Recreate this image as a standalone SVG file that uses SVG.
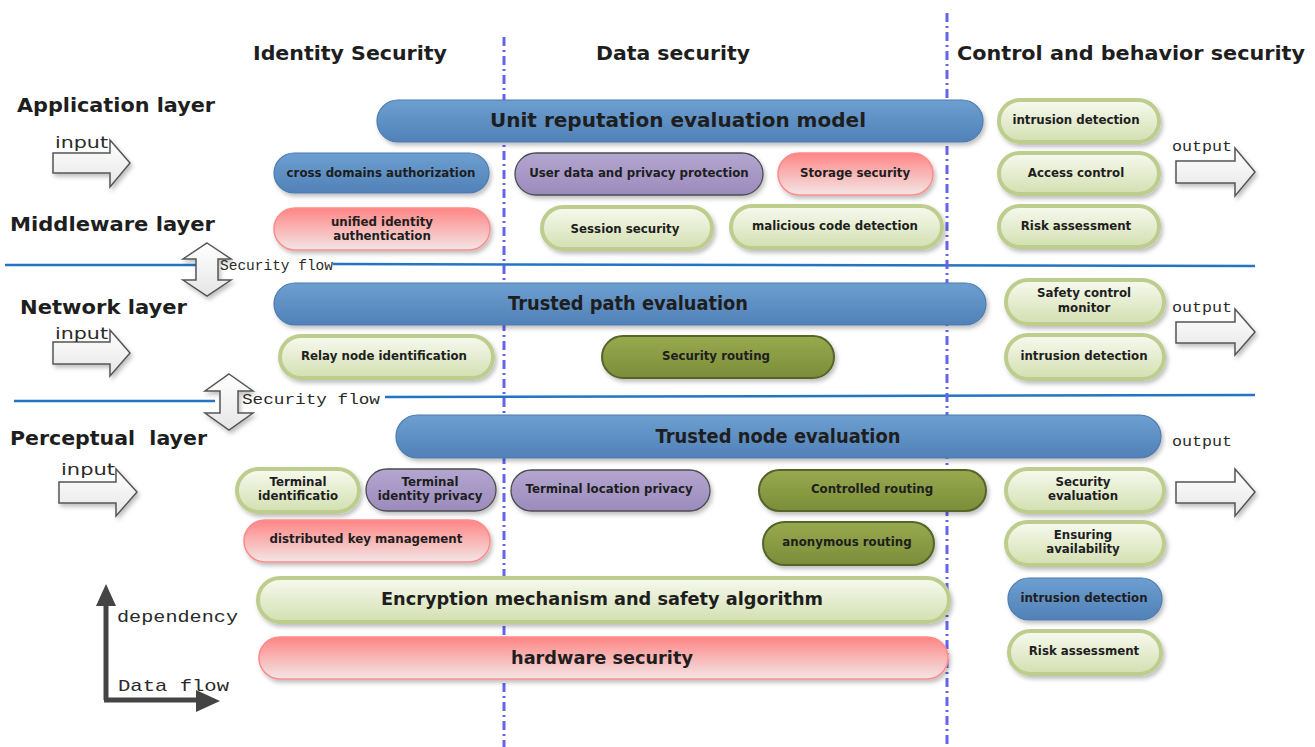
<svg xmlns="http://www.w3.org/2000/svg" width="1315" height="747" viewBox="0 0 1315 747">
  <defs>
    <linearGradient id="gBlue" x1="0" y1="0" x2="0" y2="1">
      <stop offset="0" stop-color="#6d9fd1"/>
      <stop offset="1" stop-color="#5181b7"/>
    </linearGradient>
    <linearGradient id="gGreen" x1="0" y1="0" x2="0" y2="1">
      <stop offset="0" stop-color="#f7faef"/>
      <stop offset="1" stop-color="#d3dfb0"/>
    </linearGradient>
    <linearGradient id="gOlive" x1="0" y1="0" x2="0" y2="1">
      <stop offset="0" stop-color="#98a94f"/>
      <stop offset="1" stop-color="#7b8d38"/>
    </linearGradient>
    <linearGradient id="gPurple" x1="0" y1="0" x2="0" y2="1">
      <stop offset="0" stop-color="#b3a6cf"/>
      <stop offset="1" stop-color="#9b8bbd"/>
    </linearGradient>
    <linearGradient id="gPink" x1="0" y1="0" x2="0" y2="1">
      <stop offset="0" stop-color="#ff8585"/>
      <stop offset="1" stop-color="#f3e6e6"/>
    </linearGradient>
    <linearGradient id="gArrow" x1="0" y1="0" x2="0" y2="1">
      <stop offset="0" stop-color="#ffffff"/>
      <stop offset="1" stop-color="#e6e6e6"/>
    </linearGradient>
    <filter id="shadow" x="-10%" y="-30%" width="125%" height="170%">
      <feDropShadow dx="2" dy="3" stdDeviation="2" flood-color="#000" flood-opacity="0.25"/>
    </filter>
  </defs>
  <style>
    .blue { fill: url(#gBlue); stroke: #4b7cb0; stroke-width: 1.2; filter: url(#shadow); }
    .green { fill: url(#gGreen); stroke: #bccd8e; stroke-width: 4; filter: url(#shadow); }
    .olive { fill: url(#gOlive); stroke: #55652a; stroke-width: 2; filter: url(#shadow); }
    .purple { fill: url(#gPurple); stroke: #4c4c4c; stroke-width: 1.3; filter: url(#shadow); }
    .pink { fill: url(#gPink); stroke: #ff8c8c; stroke-width: 1.6; filter: url(#shadow); }
    .lbl { font-family: "DejaVu Sans", Verdana, sans-serif; font-weight: bold; fill: #1e1e1e; text-anchor: middle; dominant-baseline: central; }
    .s { font-size: 11.8px; }
    .m { font-size: 18px; }
    .b { font-size: 20px; }
    .head { font-family: "DejaVu Sans", Verdana, sans-serif; font-weight: bold; font-size: 20px; fill: #1e1e1e; }
    .mono { font-family: "Liberation Mono", "Courier New", monospace; fill: #2a2a2a; }
    .sans { font-family: "DejaVu Sans", Verdana, sans-serif; fill: #2a2a2a; }
    .blockarrow { fill: url(#gArrow); stroke: #555; stroke-width: 1.5; filter: url(#shadow); }
    .sep { stroke: #2474c4; stroke-width: 2.5; fill: none; }
    .col { stroke: #6464e8; stroke-width: 3; stroke-dasharray: 9 4 2 4; fill: none; }
  </style>

  <!-- column headers -->
  <text class="head" x="253" y="60" textLength="194" lengthAdjust="spacingAndGlyphs">Identity Security</text>
  <text class="head" x="596" y="60" textLength="154" lengthAdjust="spacingAndGlyphs">Data security</text>
  <text class="head" x="957" y="60" textLength="348" lengthAdjust="spacingAndGlyphs">Control and behavior security</text>

  <!-- layer labels -->
  <text class="head" x="17" y="112" textLength="198" lengthAdjust="spacingAndGlyphs">Application layer</text>
  <text class="head" x="10" y="231" textLength="205" lengthAdjust="spacingAndGlyphs">Middleware layer</text>
  <text class="head" x="20" y="314" textLength="167" lengthAdjust="spacingAndGlyphs">Network layer</text>
  <text class="head" x="10" y="445" textLength="197" lengthAdjust="spacingAndGlyphs" xml:space="preserve">Perceptual  layer</text>

  <!-- layer separators -->
  <g id="separators">
    <path class="sep" d="M5 265 L200 265"/>
    <path class="sep" d="M333 264 L1255 266"/>
    <path class="sep" d="M14 401 L215 401"/>
    <path class="sep" d="M385 397 L1255 395"/>
  </g>

  <!-- input / output block arrows -->
  <g id="io-arrows">
    <path class="blockarrow" d="M53 153 H110 V140 L130 163 L110 187 V173 H53 Z"/>
    <path class="blockarrow" d="M53 342 H110 V330 L130 353 L110 376 V364 H53 Z"/>
    <path class="blockarrow" d="M59 482 H116 V469 L137 492 L116 516 V503 H59 Z"/>
    <path class="blockarrow" d="M1176 161 H1235 V148 L1255 172 L1235 196 V183 H1176 Z"/>
    <path class="blockarrow" d="M1176 322 H1235 V309 L1255 332 L1235 355 V343 H1176 Z"/>
    <path class="blockarrow" d="M1176 482 H1235 V469 L1255 492 L1235 516 V503 H1176 Z"/>
  </g>
  <text class="sans" x="55" y="148" font-size="16" textLength="53" lengthAdjust="spacingAndGlyphs">input</text>
  <text class="sans" x="55" y="339" font-size="16" textLength="53" lengthAdjust="spacingAndGlyphs">input</text>
  <text class="sans" x="61" y="475" font-size="16" textLength="54" lengthAdjust="spacingAndGlyphs">input</text>
  <text class="mono" x="1172" y="151" font-size="15" textLength="60" lengthAdjust="spacingAndGlyphs">output</text>
  <text class="mono" x="1172" y="312" font-size="15" textLength="60" lengthAdjust="spacingAndGlyphs">output</text>
  <text class="mono" x="1172" y="446" font-size="15" textLength="60" lengthAdjust="spacingAndGlyphs">output</text>

  <!-- security flow double arrows -->
  <g id="security-flow">
    <path class="blockarrow" d="M207 243 L231 259 H218 V280 H231 L207 296 L183 280 H196 V259 H183 Z"/>
    <path class="blockarrow" d="M229 374 L253 391 H238 V413 H253 L229 430 L205 413 H220 V391 H205 Z"/>
    <text class="mono" x="220" y="270" font-size="15" textLength="113" lengthAdjust="spacingAndGlyphs">Security flow</text>
    <text class="mono" x="242" y="404" font-size="15" textLength="138" lengthAdjust="spacingAndGlyphs">Security flow</text>
  </g>

  <!-- column dividers -->
  <g id="columns">
    <path class="col" d="M504 37 V747"/>
    <path class="col" d="M947 13 V747"/>
  </g>

  <!-- application layer -->
  <g id="unit-reputation"><rect class="blue" x="377" y="100" width="606" height="42" rx="21"/><text class="lbl b" x="678" y="120" textLength="376" lengthAdjust="spacingAndGlyphs">Unit reputation evaluation model</text></g>
  <g id="cross-domains"><rect class="blue" x="274" y="153" width="215" height="40" rx="20"/><text class="lbl s" x="381" y="173">cross domains authorization</text></g>
  <g id="user-data"><rect class="purple" x="515" y="153" width="248" height="42" rx="21"/><text class="lbl s" x="639" y="173">User data and privacy protection</text></g>
  <g id="storage"><rect class="pink" x="778" y="153" width="155" height="42" rx="21"/><text class="lbl s" x="855" y="173">Storage security</text></g>
  <g id="intrusion-1"><rect class="green" x="999" y="100" width="160" height="42" rx="21"/><text class="lbl s" x="1076" y="120">intrusion detection</text></g>
  <g id="access-control"><rect class="green" x="999" y="153" width="160" height="41" rx="20.5"/><text class="lbl s" x="1076" y="173">Access control</text></g>

  <!-- middleware layer -->
  <g id="unified-identity"><rect class="pink" x="274" y="208" width="216" height="42" rx="21"/><text class="lbl s" x="382" y="222">unified identity</text><text class="lbl s" x="382" y="236">authentication</text></g>
  <g id="session"><rect class="green" x="542" y="207" width="170" height="42" rx="21"/><text class="lbl s" x="625" y="229">Session security</text></g>
  <g id="malicious"><rect class="green" x="731" y="206" width="211" height="42" rx="21"/><text class="lbl s" x="835" y="226">malicious code detection</text></g>
  <g id="risk-1"><rect class="green" x="999" y="206" width="160" height="41" rx="20.5"/><text class="lbl s" x="1076" y="226">Risk assessment</text></g>

  <!-- network layer -->
  <g id="trusted-path"><rect class="blue" x="274" y="283" width="712" height="42" rx="21"/><text class="lbl b" x="628" y="303" textLength="240" lengthAdjust="spacingAndGlyphs">Trusted path evaluation</text></g>
  <g id="relay"><rect class="green" x="280" y="336" width="213" height="42" rx="21"/><text class="lbl s" x="384" y="356">Relay node identification</text></g>
  <g id="security-routing"><rect class="olive" x="602" y="336" width="232" height="42" rx="21"/><text class="lbl s" x="716" y="356">Security routing</text></g>
  <g id="safety-control"><rect class="green" x="1006" y="280" width="158" height="44" rx="22"/><text class="lbl s" x="1084" y="293">Safety control</text><text class="lbl s" x="1084" y="308">monitor</text></g>
  <g id="intrusion-2"><rect class="green" x="1006" y="335" width="158" height="44" rx="22"/><text class="lbl s" x="1084" y="356">intrusion detection</text></g>

  <!-- perceptual layer -->
  <g id="trusted-node"><rect class="blue" x="396" y="415" width="765" height="43" rx="21.5"/><text class="lbl b" x="778" y="436" textLength="245" lengthAdjust="spacingAndGlyphs">Trusted node evaluation</text></g>
  <g id="terminal-id"><rect class="green" x="237" y="469" width="122" height="43" rx="21.5"/><text class="lbl s" x="298" y="482">Terminal</text><text class="lbl s" x="298" y="496">identificatio</text></g>
  <g id="terminal-identity-privacy"><rect class="purple" x="366" y="469" width="130" height="42" rx="21"/><text class="lbl s" x="430" y="482">Terminal</text><text class="lbl s" x="430" y="496">identity privacy</text></g>
  <g id="terminal-location"><rect class="purple" x="511" y="470" width="199" height="41" rx="20.5"/><text class="lbl s" x="609" y="489">Terminal location privacy</text></g>
  <g id="controlled-routing"><rect class="olive" x="759" y="470" width="227" height="41" rx="20.5"/><text class="lbl s" x="872" y="489">Controlled routing</text></g>
  <g id="distributed-key"><rect class="pink" x="244" y="520" width="246" height="42" rx="21"/><text class="lbl s" x="366" y="539">distributed key management</text></g>
  <g id="anonymous-routing"><rect class="olive" x="763" y="522" width="171" height="43" rx="21.5"/><text class="lbl s" x="847" y="542">anonymous routing</text></g>
  <g id="security-evaluation"><rect class="green" x="1006" y="469" width="158" height="43" rx="21.5"/><text class="lbl s" x="1083" y="482">Security</text><text class="lbl s" x="1083" y="496">evaluation</text></g>
  <g id="ensuring-availability"><rect class="green" x="1006" y="522" width="158" height="43" rx="21.5"/><text class="lbl s" x="1083" y="535">Ensuring</text><text class="lbl s" x="1083" y="549">availability</text></g>
  <g id="intrusion-3"><rect class="blue" x="1008" y="578" width="154" height="42" rx="21"/><text class="lbl s" x="1084" y="598">intrusion detection</text></g>
  <g id="risk-2"><rect class="green" x="1009" y="631" width="152" height="43" rx="21.5"/><text class="lbl s" x="1084" y="651">Risk assessment</text></g>

  <!-- base layers -->
  <g id="encryption"><rect class="green" x="258" y="578" width="691" height="44" rx="22"/><text class="lbl m" x="602" y="598" textLength="442" lengthAdjust="spacingAndGlyphs">Encryption mechanism and safety algorithm</text></g>
  <g id="hardware"><rect class="pink" x="259" y="637" width="689" height="42" rx="21"/><text class="lbl m" x="602" y="657" textLength="182" lengthAdjust="spacingAndGlyphs">hardware security</text></g>

  <!-- legend axes -->
  <g id="legend">
    <path d="M106 700 V600" stroke="#444" stroke-width="5" fill="none"/>
    <path d="M96 606 L106 584 L116 606 Z" fill="#444"/>
    <path d="M104 700 H202" stroke="#444" stroke-width="5" fill="none"/>
    <path d="M196 690 L220 701 L196 712 Z" fill="#444"/>
    <text class="mono" x="117" y="622" font-size="17" textLength="121" lengthAdjust="spacingAndGlyphs">dependency</text>
    <text class="mono" x="118" y="691" font-size="17" textLength="111" lengthAdjust="spacingAndGlyphs">Data flow</text>
  </g>
</svg>
